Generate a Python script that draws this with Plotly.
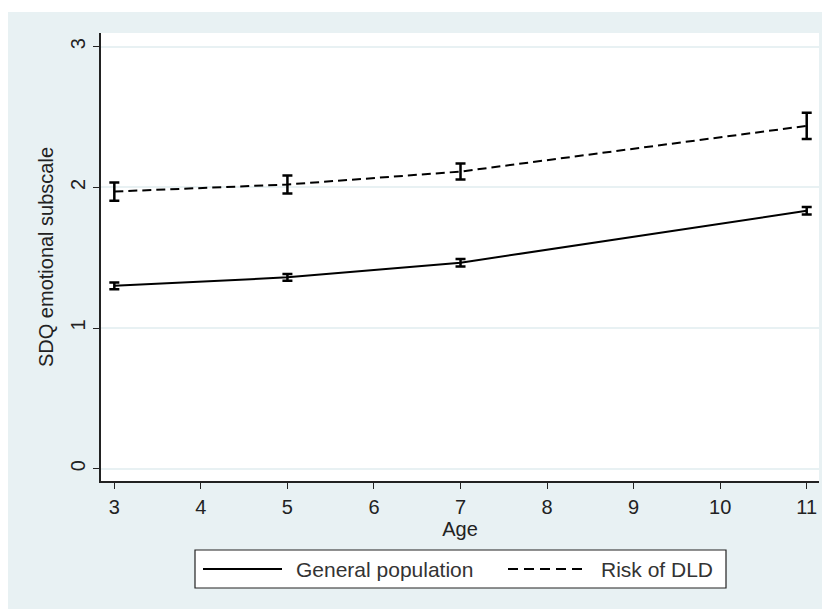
import plotly.graph_objects as go

ages = [3, 5, 7, 11]
gen_mean = [1.30, 1.36, 1.464, 1.833]
gen_err = [0.024, 0.024, 0.026, 0.027]
dld_mean = [1.97, 2.02, 2.112, 2.437]
dld_err = [0.065, 0.064, 0.057, 0.093]

series_names = ["General population", "Risk of DLD"]
x_ticks = [3, 4, 5, 6, 7, 8, 9, 10, 11]
y_ticks = [0, 1, 2, 3]

FONT = "Liberation Sans, Arial, sans-serif"
BG = "#e8f1f3"
INK = "#222222"
DASH = "9px,5px"

fig = go.Figure()
fig.add_trace(go.Scatter(
    x=ages, y=gen_mean, mode="lines", name=series_names[0],
    line=dict(color="black", width=2),
    error_y=dict(type="data", array=gen_err, visible=True, color="black",
                 thickness=2.5, width=5),
))
fig.add_trace(go.Scatter(
    x=ages, y=dld_mean, mode="lines", name=series_names[1],
    line=dict(color="black", width=2, dash=DASH),
    error_y=dict(type="data", array=dld_err, visible=True, color="black",
                 thickness=2.5, width=5),
))

# the page body adds an 8px margin; figure is sized to the remaining window
OFF = 8
W, H = 830 - OFF, 609 - OFF
# plot area in page pixels: x 101..819, y 33..481
L = 101 - OFF
T = 33 - OFF
pw, ph = 718, 448
R = W - L - pw
B = H - T - ph


def px_x(p):
    return (p - OFF - L) / pw


def px_y(p):
    return (H - B - (p - OFF)) / ph


shapes = [
    dict(type="rect", xref="paper", yref="paper", layer="below",
         x0=px_x(8), x1=px_x(840), y0=px_y(620), y1=px_y(12),
         fillcolor=BG, line=dict(width=0)),
    dict(type="rect", xref="paper", yref="paper", layer="below",
         x0=0, x1=1, y0=0, y1=1,
         fillcolor="white", line=dict(width=0)),
    # legend box
    dict(type="rect", xref="paper", yref="paper", layer="above",
         x0=px_x(195), x1=px_x(726), y0=px_y(588), y1=px_y(550),
         fillcolor="white", line=dict(color=INK, width=1.2)),
    # legend samples
    dict(type="line", xref="paper", yref="paper", layer="above",
         x0=px_x(203), x1=px_x(282), y0=px_y(569), y1=px_y(569),
         line=dict(color="black", width=2)),
    dict(type="line", xref="paper", yref="paper", layer="above",
         x0=px_x(508), x1=px_x(588), y0=px_y(569), y1=px_y(569),
         line=dict(color="black", width=2, dash="10px,6px")),
]

annotations = [
    dict(text=series_names[0], xref="paper", yref="paper",
         x=px_x(294), y=px_y(569), xanchor="left", yanchor="middle",
         showarrow=False, font=dict(size=21, color="#333333")),
    dict(text=series_names[1], xref="paper", yref="paper",
         x=px_x(599), y=px_y(569), xanchor="left", yanchor="middle",
         showarrow=False, font=dict(size=21, color="#333333")),
]

fig.update_layout(
    width=W, height=H,
    margin=dict(l=L, r=R, t=T, b=B, pad=0),
    paper_bgcolor="white",
    plot_bgcolor="white",
    font=dict(family=FONT, size=20, color=INK),
    shapes=shapes,
    annotations=annotations,
    showlegend=False,
    xaxis=dict(
        range=[2.846, 11.142], tickvals=x_ticks,
        ticks="outside", ticklen=6, tickwidth=1.2, tickcolor=INK,
        ticklabelstandoff=1,
        showline=True, linecolor=INK, linewidth=1.5,
        showgrid=False, zeroline=False,
        title=dict(text="Age", standoff=1, font=dict(size=20)),
        tickfont=dict(size=20),
    ),
    yaxis=dict(
        range=[-0.0875, 3.097], tickvals=y_ticks,
        ticks="outside", ticklen=6, tickwidth=1.2, tickcolor=INK,
        tickangle=-90, ticklabelstandoff=0,
        showline=True, linecolor=INK, linewidth=1.5,
        showgrid=True, gridcolor=BG, gridwidth=1.5,
        zeroline=False,
        title=dict(text="SDQ emotional subscale", standoff=8, font=dict(size=20)),
        tickfont=dict(size=20),
    ),
)

fig.write_html("out.html")
